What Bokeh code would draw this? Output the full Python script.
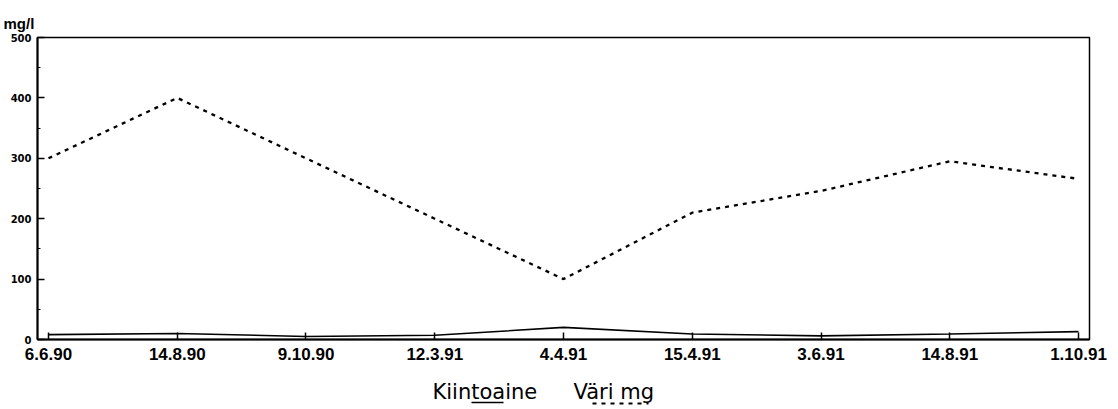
from bokeh.plotting import figure
from bokeh.models import Range1d, FixedTicker, Title
from bokeh.layouts import column
from bokeh.core.properties import value
from bokeh.embed import file_html
from bokeh.resources import INLINE

# ---- data ----
dates = ["6.6.90", "14.8.90", "9.10.90", "12.3.91", "4.4.91",
         "15.4.91", "3.6.91", "14.8.91", "1.10.91"]
kiintoaine = [8, 10, 5, 7, 20, 9, 6, 9, 13]              # solid line
vari_mg = [300, 400, 300, 200, 100, 210, 246, 295, 266]  # dashed line
y_ticks = [0, 100, 200, 300, 400, 500]
y_minor = [50, 150, 250, 350, 450]
unit_label = "mg/l"
legend_names = ["Kiintoaine", "Väri mg"]

xs = list(range(len(dates)))

p = figure(width=1118, height=380, output_backend="svg", toolbar_location=None,
           x_range=Range1d(-0.0854, len(dates) - 1 + 0.0854),
           y_range=Range1d(0, 500),
           min_border_left=37, min_border_right=29,
           min_border_top=37, min_border_bottom=41)
p.title = Title(text=unit_label, align="left", offset=-34,
                text_font="Liberation Sans", text_font_style="bold",
                text_font_size="15px", text_color="black", standoff=11)
p.background_fill_color = "white"
p.border_fill_color = "white"
p.outline_line_color = "black"
p.outline_line_width = 1.5
p.xgrid.visible = False
p.ygrid.visible = False

p.line(xs, vari_mg, line_color="black", line_width=2.3, line_dash="4 5")
p.line(xs, kiintoaine, line_color="black", line_width=1.6)

# x axis
xa = p.xaxis[0]
xa.ticker = FixedTicker(ticks=xs)
xa.major_label_overrides = {i: d for i, d in zip(xs, dates)}
xa.major_tick_in = 7
xa.major_tick_out = 0
xa.minor_tick_line_color = None
xa.axis_line_width = 2
xa.major_tick_line_width = 1.5
xa.major_label_text_font = "Liberation Sans"
xa.major_label_text_font_style = "bold"
xa.major_label_text_font_size = "17px"
xa.major_label_text_color = "black"
xa.major_label_standoff = 8

# y axis
ya = p.yaxis[0]
ya.ticker = FixedTicker(ticks=y_ticks, minor_ticks=y_minor)
ya.major_tick_in = 7
ya.major_tick_out = 0
ya.minor_tick_in = 3
ya.minor_tick_out = 0
ya.axis_line_width = 2
ya.major_tick_line_width = 1.5
ya.major_label_text_font = "DejaVu Sans"
ya.major_label_text_font_style = "bold"
ya.major_label_text_font_size = "10px"
ya.major_label_text_color = "black"
ya.major_label_standoff = 6

# ---- legend strip below (column aligns its frame with the plot frame: x 37..1089) ----
lg = figure(width=1118, height=29, output_backend="svg", toolbar_location=None,
            title=None,
            x_range=Range1d(37, 1089), y_range=Range1d(409, 380),
            x_axis_type=None, y_axis_type=None,
            min_border=0, min_border_left=0, min_border_right=0,
            min_border_top=0, min_border_bottom=0)
lg.outline_line_color = None
lg.background_fill_color = "white"
lg.border_fill_color = "white"
lg.xgrid.visible = False
lg.ygrid.visible = False
lg.text(x=[432, 573], y=[391, 391], text=legend_names,
        text_align="left", text_baseline="alphabetic",
        text_font=value("DejaVu Sans"), text_font_size=value("21px"),
        text_color="black")
lg.segment(x0=[471], y0=[402], x1=[503], y1=[402],
           line_color="black", line_width=1.6)
lg.segment(x0=[592], y0=[403], x1=[648], y1=[403],
           line_color="black", line_width=2, line_dash="4 5")

layout = column(p, lg, spacing=0)
open("out.html", "w").write(file_html(layout, INLINE))
